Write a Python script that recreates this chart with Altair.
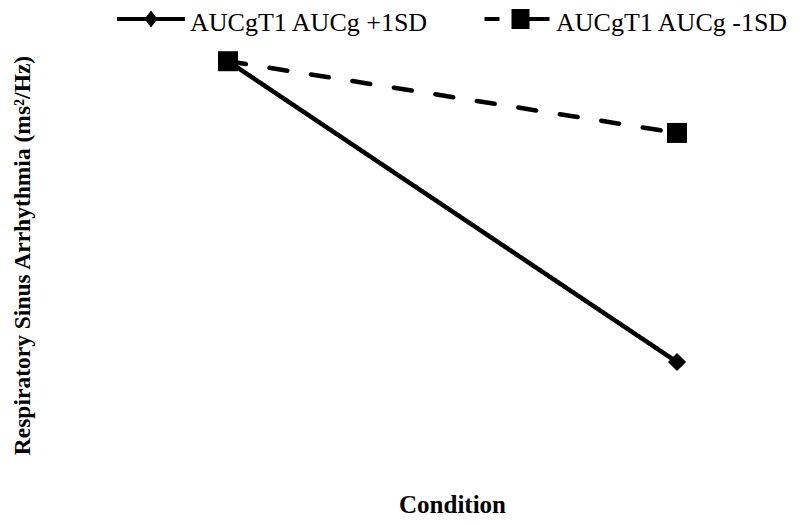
import altair as alt
import pandas as pd

conditions = [1, 2]
series_names = ["AUCgT1 AUCg +1SD", "AUCgT1 AUCg -1SD"]
plus_sd = [6.97, 5.67]
minus_sd = [6.97, 6.66]

rows = []
for name, vals in zip(series_names, [plus_sd, minus_sd]):
    for c, v in zip(conditions, vals):
        rows.append({"condition": c, "rsa": v, "series": name})
df = pd.DataFrame(rows)

# legend glyphs drawn as filled shapes (line segment + marker); 1 unit = 10 px at symbolSize 400
legend_paths = [
    "M-3.4,-0.6L3.4,-0.6L3.4,-0.2L-3.4,-0.2Z M0,-1.25L0.65,-0.4L0,0.45L-0.65,-0.4Z",
    "M-3.25,-0.6L-1.75,-0.6L-1.75,-0.2L-3.25,-0.2Z "
    "M1.25,-0.6L3.25,-0.6L3.25,-0.2L1.25,-0.2Z "
    "M-0.55,-1.4L1.25,-1.4L1.25,0.6L-0.55,0.6Z",
]

SERIF = "Liberation Serif"

x_enc = alt.X("condition:Q", scale=alt.Scale(domain=[0.51, 2.265], nice=False, zero=False),
              axis=alt.Axis(title="Condition", domain=False, ticks=False, labels=False, grid=False,
                            titleFont=SERIF, titleFontSize=25, titleFontWeight="bold",
                            titleColor="black", titleX=444, titleY=-5, titleBaseline="alphabetic",
                            titleAlign="center"))
y_enc = alt.Y("rsa:Q", scale=alt.Scale(domain=[5.0, 7.2], nice=False, zero=False),
              axis=alt.Axis(title="Respiratory Sinus Arrhythmia (ms²/Hz)", domain=False, ticks=False,
                            labels=False, grid=False, titleFont=SERIF, titleFontSize=23.5,
                            titleFontWeight="bold", titleColor="black", titleX=14, titleY=247,
                            titleAngle=270, titleBaseline="middle", titleAlign="center"))

lines = alt.Chart(df).mark_line(color="black", strokeWidth=4.5, strokeCap="round").encode(
    x=x_enc, y=y_enc,
    detail="series:N",
    strokeDash=alt.StrokeDash("series:N", scale=alt.Scale(domain=series_names, range=[[1, 0], [18, 24]]),
                              legend=None),
)

points = alt.Chart(df).mark_point(filled=True, color="black", opacity=1).encode(
    x=x_enc, y=y_enc,
    shape=alt.Shape("series:N", scale=alt.Scale(domain=series_names, range=["diamond", "square"]),
                    legend=None),
    size=alt.Size("series:N", scale=alt.Scale(domain=series_names, range=[330, 400]), legend=None),
)

legend_layer = alt.Chart(df).mark_point(filled=True, color="black", size=0, opacity=1).encode(
    x=x_enc, y=y_enc,
    shape=alt.Shape("series:N", scale=alt.Scale(domain=series_names, range=legend_paths),
                    legend=alt.Legend(title=None, orient="none", direction="horizontal",
                                      legendX=130, legendY=2, symbolSize=400,
                                      symbolStrokeWidth=0, symbolFillColor="black",
                                      labelFont=SERIF, labelFontSize=26, labelColor="black",
                                      labelOffset=26, columnPadding=55, padding=0, labelLimit=400)),
)

chart = alt.layer(lines, points, legend_layer).resolve_scale(shape="independent").resolve_legend(
    shape="independent"
).properties(
    width=788, height=509,
    autosize=alt.AutoSizeParams(type="none"),
    padding=0,
    background="white",
).configure_view(stroke=None).configure_legend(labelFont=SERIF)

chart.save("out.html", embed_options={"renderer": "svg", "actions": False})
